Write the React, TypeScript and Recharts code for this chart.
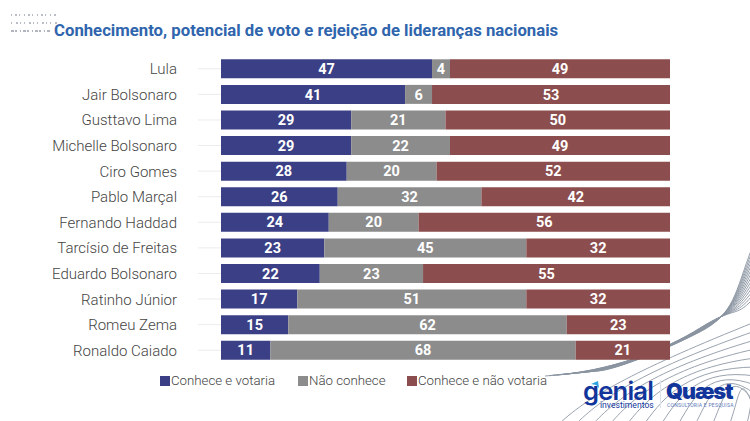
import React from "react";
import { BarChart, Bar, XAxis, YAxis, LabelList } from "recharts";

const names = ["Lula","Jair Bolsonaro","Gusttavo Lima","Michelle Bolsonaro","Ciro Gomes","Pablo Marçal","Fernando Haddad","Tarcísio de Freitas","Eduardo Bolsonaro","Ratinho Júnior","Romeu Zema","Ronaldo Caiado"];
const votaria = [47,41,29,29,28,26,24,23,22,17,15,11];
const naoConhece = [4,6,21,22,20,32,20,45,23,51,62,68];
const naoVotaria = [49,53,50,49,52,42,56,32,55,32,23,21];
const data = names.map((name,i)=>({name,votaria:votaria[i],naoConhece:naoConhece[i],naoVotaria:naoVotaria[i]}));

const seriesNames = ["Conhece e votaria","Não conhece","Conhece e não votaria"];
const FONT = "Roboto, sans-serif";
const BLUE = "#3b4086", GREY = "#8c8c8c", RED = "#8b4d4d";
const seriesColors = [BLUE, GREY, RED];
const legendLeft = [160, 298, 407];

const LeftTick = (p: any) => (
  <text x={177} y={p.y} dy={5.5} textAnchor="end" fontFamily={FONT} fontWeight={300} fontSize={15} fill="#444">{p.payload.value}</text>
);

const fan = [0,1,2,3,4,5,6,7,8,9,10,11,12,13];
const lower = [0,1,2,3,4,5,6,7,8,9,10,11];

export default function App(){
  return (
    <div style={{position:"absolute",left:0,top:0,width:750,height:421,background:"#fff",overflow:"hidden"}}>
      <svg width={750} height={421} style={{position:"absolute",left:0,top:0}}>
        {fan.map(i=>(
          <path key={i} d={`M${545+i*4} ${376-i*0.4} C 610 372, 665 350, 700 ${328+i*0.3} S 735 ${318-i*2}, 752 ${300-i*4}`} fill="none" stroke="#8a94a2" strokeWidth={0.9}/>
        ))}
        {lower.map(i=>(
          <path key={"b"+i} d={`M${560+i*17} 423 C ${590+i*15} 395, ${640+i*10} 368, 755 ${322+i*9}`} fill="none" stroke="#9aa3af" strokeWidth={1}/>
        ))}
        <g stroke="#a8aeb8" strokeWidth={2}>
          <line x1={11} x2={58} y1={15} y2={15} strokeDasharray="1 3 2 2 1 4" opacity={0.8}/>
          <line x1={11} x2={57} y1={23} y2={23} strokeDasharray="1 4 2 2 1 3" opacity={0.8}/>
          <line x1={11} x2={50} y1={31} y2={31} strokeDasharray="3 1 2 3 1 2" opacity={0.9}/>
        </g>
        <path d="M591 384 L598 381 L599 388 L596 385 Z" fill="#2aa3e0"/>
        <line x1={660.5} x2={660.5} y1={380} y2={408} stroke="#dbe3ec"/>
      </svg>
      <div style={{position:"absolute",left:54,top:20,fontFamily:FONT,fontWeight:700,fontSize:16.73,color:"#2f65ad",whiteSpace:"nowrap",lineHeight:"20px"}}>
        Conhecimento, potencial de voto e rejeição de lideranças nacionais
      </div>
      <div style={{position:"absolute",left:0,top:0}}>
        <BarChart width={750} height={421} data={data} layout="vertical" barCategoryGap={3.3} margin={{top:56,right:0,bottom:58,left:0}}>
          <XAxis type="number" domain={[0,100]} hide />
          <YAxis yAxisId="l" type="category" dataKey="name" width={221} axisLine={false} tickSize={23} tickLine={{stroke:"#ececec"}} tick={<LeftTick/>} interval={0}/>
          <YAxis yAxisId="r" orientation="right" type="category" dataKey="name" width={80} axisLine={false} tickSize={25} tickLine={{stroke:"#ececec"}} tick={false} interval={0}/>
          <Bar yAxisId="l" dataKey="votaria" name={seriesNames[0]} stackId="a" fill={BLUE} isAnimationActive={false}>
            <LabelList dataKey="votaria" position="center" fill="#fff" fontFamily={FONT} fontWeight={700} fontSize={14.5}/>
          </Bar>
          <Bar yAxisId="l" dataKey="naoConhece" name={seriesNames[1]} stackId="a" fill={GREY} isAnimationActive={false}>
            <LabelList dataKey="naoConhece" position="center" fill="#fff" fontFamily={FONT} fontWeight={700} fontSize={14.5}/>
          </Bar>
          <Bar yAxisId="l" dataKey="naoVotaria" name={seriesNames[2]} stackId="a" fill={RED} isAnimationActive={false}>
            <LabelList dataKey="naoVotaria" position="center" fill="#fff" fontFamily={FONT} fontWeight={700} fontSize={14.5}/>
          </Bar>
        </BarChart>
      </div>
      {seriesNames.map((n,i)=>(
        <div key={n} style={{position:"absolute",left:legendLeft[i],top:373,display:"flex",alignItems:"center",fontFamily:FONT,fontWeight:300,fontSize:13.25,color:"#444",lineHeight:"15px",whiteSpace:"nowrap"}}>
          <span style={{width:10,height:10,background:seriesColors[i],marginRight:1}}/>
          <span>{n}</span>
        </div>
      ))}
      <div style={{position:"absolute",left:583,top:379,fontFamily:"Inter, sans-serif",fontWeight:600,fontSize:25.6,letterSpacing:-0.8,color:"#12359b",lineHeight:"24px"}}>genial</div>
      <div style={{position:"absolute",left:600,top:401,fontFamily:FONT,fontSize:8.6,color:"#12359b",lineHeight:"9px",whiteSpace:"nowrap"}}>investimentos</div>
      <div style={{position:"absolute",left:666,top:380,fontFamily:"Inter, sans-serif",fontWeight:900,fontSize:21.5,letterSpacing:-1,color:"#12359b",lineHeight:"23px"}}>Quæst</div>
      <div style={{position:"absolute",left:667,top:402,fontFamily:FONT,fontSize:5,letterSpacing:0.25,color:"#5b78b8",lineHeight:"6px",whiteSpace:"nowrap"}}>CONSULTORIA E PESQUISA</div>
    </div>
  );
}
